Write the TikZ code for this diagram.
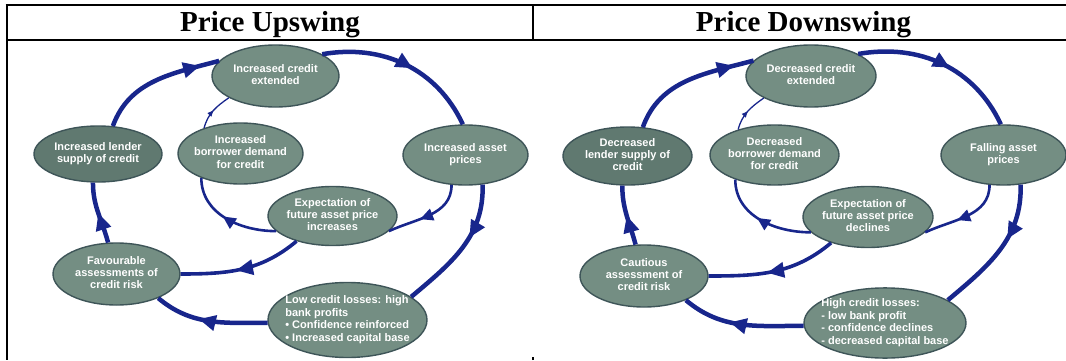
\documentclass[tikz,border=0pt]{standalone}
\usepackage{fontspec}
\setmainfont{Liberation Serif}
\setsansfont{Liberation Sans}
\usepackage{xcolor}
\usetikzlibrary{shapes.geometric,arrows.meta,decorations.markings}

\definecolor{ovalfill}{RGB}{116,142,131}
\definecolor{ovaldark}{RGB}{96,121,112}
\definecolor{ovalline}{RGB}{62,85,88}
\definecolor{loopblue}{RGB}{24,38,140}

\newcommand{\ovaltext}[1]{\makebox[0pt]{\begin{tabular}{@{}c@{}}#1\end{tabular}}}
\newcommand{\ovalleft}[1]{\makebox[0pt]{\begin{tabular}{@{}l@{}}#1\end{tabular}}}

\tikzset{
	header/.style={anchor=base, font=\bfseries\fontsize{29}{34}\selectfont},
	bubble/.style={ellipse, draw=ovalline, line width=1.4pt, fill=ovalfill, text=white, inner sep=0pt,
		font=\sffamily\bfseries\fontsize{11}{12.4}\selectfont},
	loopline/.style={draw, loopblue, line width=4.5pt},
	midline/.style={draw, loopblue, line width=2.6pt},
	thinline/.style={draw, loopblue, line width=1.3pt},
	bigtip/.style={postaction={decorate}, decoration={markings,
		mark=at position #1 with {\arrow{Triangle[length=17pt,width=15pt]}}}},
	midtip/.style={postaction={decorate}, decoration={markings,
		mark=at position #1 with {\arrow{Triangle[length=13pt,width=12pt]}}}},
	smalltip/.style={postaction={decorate}, decoration={markings,
		mark=at position #1 with {\arrow{Triangle[length=6pt,width=5pt]}}}}
}

\begin{document}
\begin{tikzpicture}[x=1pt,y=1pt]
	\useasboundingbox (0,0) rectangle (1066,360);
	
	% table frame
	\draw[line width=2pt] (5.5,355) -- (1066,355);
	\draw[line width=2pt] (6.5,320) -- (1066,320);
	\draw[line width=2pt] (6.5,356) -- (6.5,0);
	\draw[line width=2pt] (533,355) -- (533,320);
	\draw[line width=1.5pt] (533,0) -- (533,3.5);
	
	\node[header] (uhead) at (270,329) {Price Upswing};
	\node[header] (dhead) at (803.5,329) {Price Downswing};
	
	% upswing
	\node[bubble, fill=ovaldark, minimum width=128pt, minimum height=56pt] (ulender) at (98,206) {\ovaltext{Increased lender\\supply of credit}};
	\node[bubble, minimum width=125pt, minimum height=61pt] (uborrow) at (240.5,206.5) {\ovaltext{Increased\\borrower demand\\for credit}};
	\node[bubble, minimum width=127pt, minimum height=62pt] (ucredit) at (275.5,284) {\ovaltext{Increased credit\\extended}};
	\node[bubble, minimum width=125pt, minimum height=60pt] (uasset) at (465.5,205) {\ovaltext{Increased asset\\prices}};
	\node[bubble, minimum width=129pt, minimum height=59pt] (uexpect) at (332.5,144) {\ovaltext{Expectation of\\future asset price\\increases}};
	\node[bubble, minimum width=127pt, minimum height=62pt] (uassess) at (116.5,86) {\ovaltext{Favourable\\assessments of\\credit risk}};
	\node[bubble, minimum width=159pt, minimum height=75pt] (ulosses) at (347.5,40) {\ovalleft{Low credit losses: high\\bank profits\\• Confidence reinforced\\• Increased capital base}};
	
	% downswing
	\node[bubble, fill=ovaldark, minimum width=129pt, minimum height=58pt] (dlender) at (627.5,204) {\ovaltext{Decreased\\lender supply of\\credit}};
	\node[bubble, minimum width=129pt, minimum height=60pt] (dborrow) at (774.5,205) {\ovaltext{Decreased\\borrower demand\\for credit}};
	\node[bubble, minimum width=130pt, minimum height=62pt] (dcredit) at (811,284) {\ovaltext{Decreased credit\\extended}};
	\node[bubble, minimum width=125pt, minimum height=60pt] (dasset) at (1003.5,205) {\ovaltext{Falling asset\\prices}};
	\node[bubble, minimum width=130pt, minimum height=61pt] (dexpect) at (868,143) {\ovaltext{Expectation of\\future asset price\\declines}};
	\node[bubble, minimum width=128pt, minimum height=62pt] (dassess) at (644,84) {\ovaltext{Cautious\\assessment of\\credit risk}};
	\node[bubble, minimum width=162pt, minimum height=70pt] (dlosses) at (885,37) {\ovalleft{High credit losses:\\ - low bank profit\\ - confidence declines\\ - decreased capital base}};
	
	\foreach \p in {u,d}{
		% outer loop
		\draw[loopline, bigtip=0.85] (\p lender.62) to[out=70, in=195] (\p credit.165);
		\draw[loopline, bigtip=0.55] (\p credit.25) to[out=10, in=115] (\p asset.95);
		\draw[loopline, bigtip=0.4] (\p asset.-60) to[out=-88, in=40] (\p losses.20);
		\draw[loopline, bigtip=0.6] (\p losses.182) to[out=180, in=-40] (\p assess.-30);
		\draw[loopline, bigtip=0.5] (\p assess.105) to[out=105, in=-90] (\p lender.-100);
		% inner arrows
		\draw[thinline, smalltip=0.5] (\p borrow.145) to[out=75, in=215] (\p credit.205);
		\draw[midline, midtip=0.55] (\p expect.195) to[out=180, in=-90] (\p borrow.212);
		\draw[midline, midtip=0.6] (\p asset.-115) to[out=-90, in=25] (\p expect.-15);
		\draw[loopline, line width=3.6pt, bigtip=0.55] (\p expect.215) to[out=220, in=0] (\p assess.0);
	}
\end{tikzpicture}
\end{document}
